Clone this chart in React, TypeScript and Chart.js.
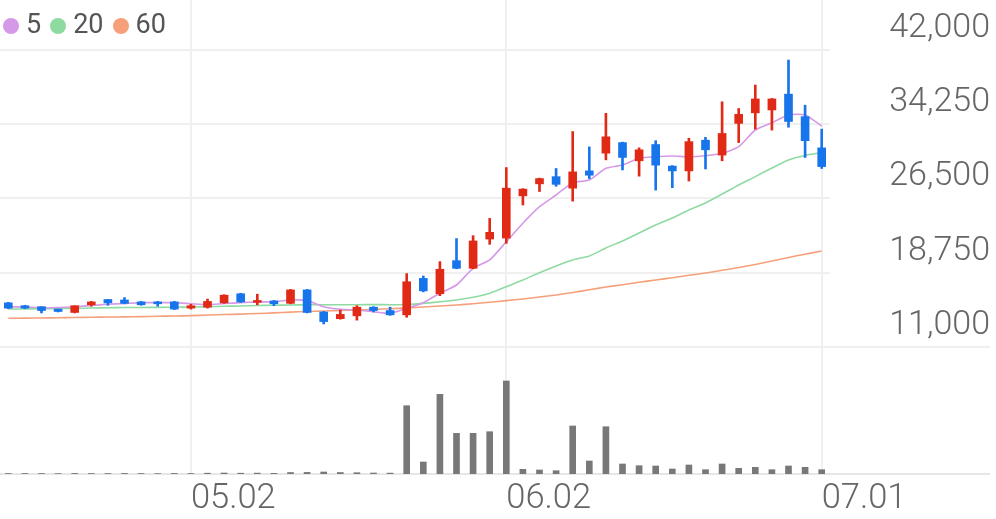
import React, { useEffect, useRef } from 'react';
import { Chart, registerables } from 'chart.js';

Chart.register(...registerables);

const dates = [
  '04.16', '04.17', '04.18', '04.21', '04.22', '04.23', '04.24', '04.25', '04.28', '04.29',
  '04.30', '05.02', '05.07', '05.08', '05.09', '05.12', '05.13', '05.14', '05.15', '05.16',
  '05.19', '05.20', '05.21', '05.22', '05.23', '05.26', '05.27', '05.28', '05.29', '05.30',
  '06.02', '06.04', '06.05', '06.09', '06.10', '06.11', '06.12', '06.13', '06.16', '06.17',
  '06.18', '06.19', '06.20', '06.23', '06.24', '06.25', '06.26', '06.27', '06.30', '07.01',
];

const tickLabels = ['05.02', '06.02', '07.01'];

const opens = [
  15600, 15300, 15200, 14950, 14600, 15400, 15950, 15900, 15700, 15700,
  15700, 15050, 15150, 15600, 16550, 15650, 15800, 15550, 16950, 14650,
  13950, 14250, 15150, 14800, 14350, 18150, 16550, 20000, 19200, 22250,
  22350, 26750, 28000, 28750, 27550, 29350, 31200, 32300, 30400, 32100,
  29850, 29350, 32550, 31000, 34300, 35400, 35700, 37350, 35000, 31750,
];
const highs = [
  15650, 15350, 15200, 14950, 15300, 15750, 15950, 16150, 15750, 15750,
  15750, 15450, 16000, 16450, 16600, 16500, 15850, 17000, 17000, 14700,
  14850, 15300, 15200, 15150, 18650, 18400, 19900, 22300, 22600, 24400,
  29700, 27500, 28600, 29600, 33450, 31850, 35350, 32350, 31750, 32500,
  29900, 32750, 32850, 36550, 35850, 38300, 36900, 40900, 36200, 33700,
];
const lows = [
  15000, 15000, 14550, 14650, 14550, 15250, 15350, 15500, 15350, 15250,
  14900, 14950, 15050, 15550, 15650, 15400, 15300, 15500, 14550, 13400,
  13900, 13800, 14650, 14300, 14100, 16750, 16350, 19150, 19150, 21700,
  21800, 25800, 27200, 27750, 26200, 28550, 30500, 29450, 28800, 27350,
  27600, 28300, 29550, 30400, 32300, 33700, 33600, 33900, 30750, 29600,
];
const closes = [
  15050, 15050, 14800, 14700, 15300, 15700, 15600, 15550, 15400, 15500,
  14950, 15300, 15750, 16400, 15700, 15850, 15500, 16950, 14600, 13650,
  14400, 15150, 14800, 14350, 17800, 16850, 19100, 19200, 22050, 22950,
  27550, 27450, 28550, 27950, 29250, 28900, 32900, 30750, 31550, 29950,
  29350, 32400, 31550, 33250, 35250, 36850, 36850, 34500, 32500, 29800,
];
const volumes = [
  5000, 5000, 5000, 4000, 6000, 5000, 5000, 6000, 5000, 4000,
  6000, 5000, 8000, 10000, 8000, 9000, 7000, 15000, 16000, 20000,
  15000, 13000, 10000, 9000, 683000, 120000, 797000, 407000, 407000, 423000,
  930000, 47000, 40000, 33000, 480000, 130000, 473000, 100000, 83000, 80000,
  50000, 90000, 43000, 100000, 57000, 67000, 43000, 80000, 67000, 43000,
];
const ma5 = [
  15200, 15170, 15100, 15120, 15200, 15330, 15450, 15530, 15620, 15620,
  15620, 15510, 15410, 15530, 15620, 15690, 15720, 15900, 15830, 15200,
  14930, 14860, 14680, 14510, 15030, 15620, 16600, 17460, 19200, 20070,
  21970, 23890, 25620, 26840, 28120, 28400, 29620, 29970, 30660, 30830,
  30900, 30830, 30930, 31180, 31870, 33610, 34370, 35180, 35180, 34030,
];
const ma20 = [
  14960, 14960, 14990, 15010, 15030, 15060, 15090, 15110, 15120, 15130,
  15150, 15170, 15200, 15240, 15270, 15320, 15350, 15380, 15400, 15410,
  15410, 15410, 15420, 15410, 15430, 15550, 15710, 15900, 16180, 16600,
  17280, 17980, 18740, 19440, 20070, 20480, 21320, 22050, 22880, 23710,
  24440, 25280, 26010, 26940, 27880, 28750, 29650, 30490, 30960, 31250,
];
const ma60 = [
  13990, 14010, 14030, 14050, 14080, 14100, 14120, 14140, 14170, 14200,
  14230, 14270, 14330, 14380, 14430, 14490, 14560, 14630, 14700, 14750,
  14800, 14860, 14920, 14990, 15060, 15170, 15270, 15380, 15510, 15660,
  15830, 16010, 16210, 16420, 16680, 16960, 17250, 17490, 17740, 17980,
  18220, 18470, 18710, 18990, 19280, 19600, 19960, 20330, 20670, 21000,
];

const maLabels = ['5', '20', '60'];
const priceTicks = [11000, 18750, 26500, 34250, 42000];

const Y_MIN = -2233;
const Y_MAX = 47158;
const VOL_MAX = 4740000;

const RED = '#e12a16';
const BLUE = '#1775ec';
const MA_COLORS = ['#d699e8', '#8edba2', '#f6a07b'];
const GRID = '#f0f0f0';
const BASE = '#e6e6e6';

export default function App() {
  const ref = useRef<HTMLCanvasElement>(null);
  const maData = [ma5, ma20, ma60];

  useEffect(() => {
    document.body.style.margin = '0';
    document.body.style.overflow = 'hidden';
    const colors = closes.map((c, i) => (c >= opens[i] ? RED : BLUE));
    const lineSets = maLabels.map((label, k) => ({
      type: 'line', label, data: maData[k], borderColor: MA_COLORS[k], backgroundColor: MA_COLORS[k],
      borderWidth: 1.6, pointRadius: 0, tension: 0.2, yAxisID: 'y', order: 1,
    }));
    const chart = new Chart(ref.current as HTMLCanvasElement, {
      type: 'bar',
      data: {
        labels: dates,
        datasets: [
          ...lineSets,
          {
            type: 'bar', label: 'wick', data: highs.map((h, i) => [lows[i], h]),
            backgroundColor: colors, barThickness: 2, grouped: false, yAxisID: 'y', order: 0,
          },
          {
            type: 'bar', label: 'body',
            data: opens.map((o, i) => [Math.min(o, closes[i]), Math.max(o, closes[i])]),
            backgroundColor: colors, barThickness: 8, grouped: false, yAxisID: 'y', order: 0,
          },
          {
            type: 'bar', label: 'volume', data: volumes, backgroundColor: '#787878',
            barThickness: 6, grouped: false, yAxisID: 'yv', order: 2,
          },
        ] as any,
      },
      options: {
        responsive: true,
        maintainAspectRatio: false,
        animation: false,
        layout: { padding: { right: 6 } },
        plugins: {
          tooltip: { enabled: false },
          legend: { display: false },
        },
        scales: {
          x: {
            type: 'category',
            offset: true,
            grid: { offset: false, color: GRID, lineWidth: 2, drawTicks: false },
            border: { display: false },
            ticks: {
              autoSkip: false,
              maxRotation: 0,
              align: 'start',
              padding: 5,
              color: '#666',
              font: { family: 'Roboto', size: 34.5, weight: '300' as any },
            },
            afterBuildTicks: (s: any) => {
              s.ticks = s.ticks.filter((t: any) => tickLabels.includes(dates[t.value]));
            },
            afterFit: (s: any) => {
              s.height = 45;
            },
          },
          y: {
            position: 'right',
            min: Y_MIN,
            max: Y_MAX,
            afterBuildTicks: (s: any) => {
              s.ticks = [Y_MIN, ...priceTicks].map((v) => ({ value: v }));
            },
            afterFit: (s: any) => {
              s.width = 160;
              s.paddingTop = 0;
              s.paddingBottom = 0;
            },
            grid: {
              color: (ctx: any) => (ctx.tick && ctx.tick.value === Y_MIN ? BASE : GRID),
              lineWidth: 2,
              drawTicks: true,
              tickLength: 160,
              tickColor: (ctx: any) =>
                ctx.tick && (ctx.tick.value === Y_MIN || ctx.tick.value === priceTicks[0])
                  ? (ctx.tick.value === Y_MIN ? BASE : GRID)
                  : 'rgba(0,0,0,0)',
            },
            border: { display: false },
            ticks: {
              crossAlign: 'far',
              padding: -21,
              labelOffset: -21.5,
              color: '#666',
              font: { family: 'Roboto', size: 34, weight: '300' as any },
              callback: (v: any) => (v === Y_MIN ? '' : Number(v).toLocaleString('en-US')),
            },
          },
          yv: {
            display: false,
            min: 0,
            max: VOL_MAX,
          },
        },
      } as any,
    });
    return () => chart.destroy();
  }, []);

  return (
    <div style={{ position: 'relative', width: 996, height: 519 }}>
      <canvas ref={ref} />
      <div
        style={{
          position: 'absolute', left: 3, top: 8, display: 'flex', alignItems: 'center',
          fontFamily: 'Roboto', fontSize: 27, color: '#555', lineHeight: '32px',
        }}
      >
        {maLabels.map((label, k) => (
          <div key={label} style={{ display: 'flex', alignItems: 'center', marginRight: 9 }}>
            <span
              style={{
                display: 'inline-block', width: 16, height: 16, borderRadius: '50%',
                background: MA_COLORS[k], marginRight: 7, position: 'relative', top: 2,
              }}
            />
            <span>{label}</span>
          </div>
        ))}
      </div>
    </div>
  );
}
